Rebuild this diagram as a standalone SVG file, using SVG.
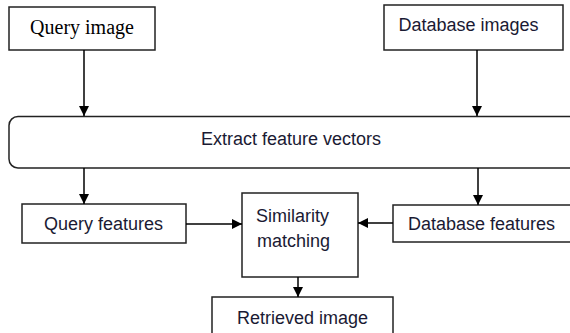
<svg xmlns="http://www.w3.org/2000/svg" width="570" height="333" viewBox="0 0 570 333">
  <style>
    .box { fill: #ffffff; stroke: #222222; stroke-width: 1.5; }
    .lbl { font-family: "Liberation Sans", Arial, sans-serif; font-size: 18px; fill: #1a1a33; }
    .serif { font-family: "Liberation Serif", "Times New Roman", serif; font-size: 20px; fill: #000000; }
    .wire { fill: none; stroke: #000000; stroke-width: 1.5; }
  </style>
  <defs>
    <marker id="arrow" markerUnits="userSpaceOnUse" markerWidth="11" markerHeight="11" refX="10" refY="5" orient="auto">
      <path d="M0,0 L10,5 L0,10 z" fill="#000000"/>
    </marker>
  </defs>
  <rect width="570" height="333" fill="#ffffff"/>

  <g id="query-image">
    <rect class="box" x="9" y="7" width="146" height="43"/>
    <text class="serif" x="82" y="34" text-anchor="middle">Query image</text>
  </g>

  <g id="database-images">
    <rect class="box" x="384" y="5" width="179" height="45"/>
    <text class="lbl" x="468.5" y="31" text-anchor="middle">Database images</text>
  </g>

  <g id="extract-features">
    <rect class="box" x="9" y="116.5" width="570" height="51.5" rx="9" ry="9"/>
    <text class="lbl" x="291" y="145" text-anchor="middle">Extract feature vectors</text>
  </g>

  <g id="query-features">
    <rect class="box" x="22" y="204" width="164" height="39"/>
    <text class="lbl" x="103.5" y="230" text-anchor="middle">Query features</text>
  </g>

  <g id="similarity-matching">
    <rect class="box" x="242" y="193" width="116" height="84"/>
    <text class="lbl" x="256" y="222">Similarity</text>
    <text class="lbl" x="257" y="247">matching</text>
  </g>

  <g id="database-features">
    <rect class="box" x="393" y="205" width="190" height="37"/>
    <text class="lbl" x="408" y="230">Database features</text>
  </g>

  <g id="retrieved-image">
    <rect class="box" x="212" y="297" width="181" height="40"/>
    <text class="lbl" x="302.5" y="324" text-anchor="middle">Retrieved image</text>
  </g>

  <g id="connectors">
    <line class="wire" x1="84" y1="50" x2="84" y2="116" marker-end="url(#arrow)"/>
    <line class="wire" x1="477" y1="50" x2="477" y2="116" marker-end="url(#arrow)"/>
    <line class="wire" x1="84" y1="168" x2="84" y2="204" marker-end="url(#arrow)"/>
    <line class="wire" x1="478" y1="168" x2="478" y2="205" marker-end="url(#arrow)"/>
    <line class="wire" x1="186" y1="224" x2="242" y2="224" marker-end="url(#arrow)"/>
    <line class="wire" x1="393" y1="223" x2="358" y2="223" marker-end="url(#arrow)"/>
    <line class="wire" x1="298" y1="277" x2="298" y2="297" marker-end="url(#arrow)"/>
  </g>
</svg>
